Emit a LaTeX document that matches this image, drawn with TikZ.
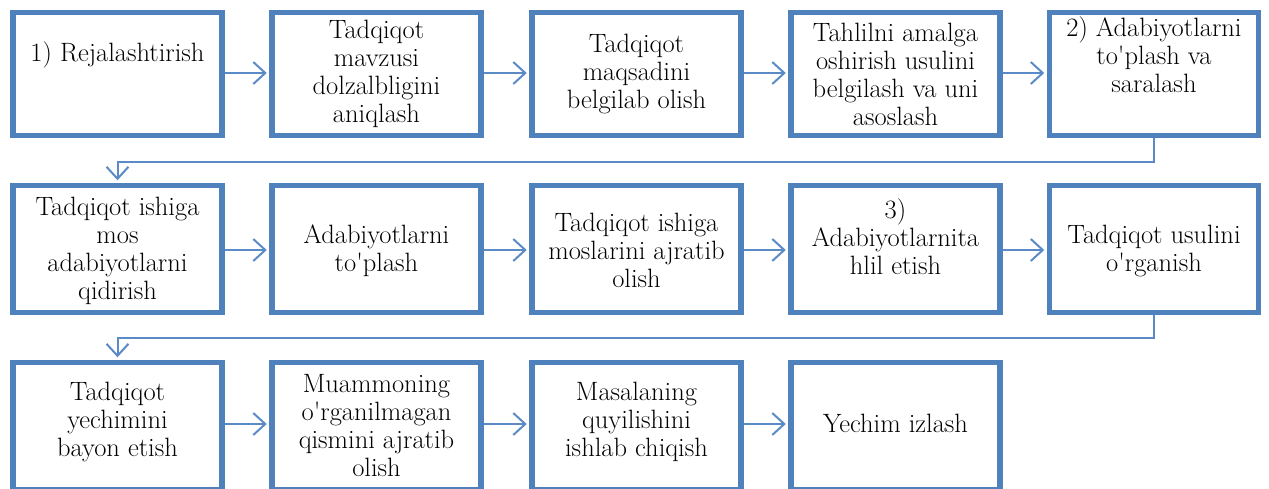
\documentclass[tikz,border=0pt]{standalone}
\usetikzlibrary{arrows.meta}
\definecolor{boxblue}{HTML}{4F81BD}
\definecolor{lineblue}{HTML}{5B8BC6}
\newcommand{\apos}{\textquotesingle}
\tikzset{
  box/.style={draw=boxblue, line width=5.5pt, fill=white, minimum width=209pt, inner sep=0pt},
  r1/.style={box, minimum height=123pt},
  r2/.style={box, minimum height=127pt},
  txt/.style={align=center, inner sep=0pt, font=\rmfamily\fontsize{26.5}{28}\selectfont},
  conn/.style={draw=lineblue, line width=2pt, -{Straight Barb[length=12pt,width=22pt,line width=2pt]}, shorten >=2.5pt}
}
\begin{document}
\begin{tikzpicture}[x=1pt,y=-1pt]
\useasboundingbox (0,0) rectangle (1269,488);
\clip (0,0) rectangle (1269,488);
% row 1
\node[r1] (b1) at (117.5,74) {};
\node[r1] (b2) at (376.5,74) {};
\node[r1] (b3) at (636.5,74) {};
\node[r1] (b4) at (895.5,74) {};
\node[r1] (b5) at (1154,74) {};
% row 2
\node[r2] (b6) at (117.5,249) {};
\node[r2] (b7) at (376.5,249) {};
\node[r2] (b8) at (636.5,249) {};
\node[r2] (b9) at (895.5,249) {};
\node[r2] (b10) at (1154,249) {};
% row 3
\node[r2] (b11) at (117.5,426) {};
\node[r2] (b12) at (376.5,426) {};
\node[r2] (b13) at (636.5,426) {};
\node[r2] (b14) at (895.5,426) {};
% texts
\node[txt] (t1) at (117.5,55) {1) Rejalashtirish};
\node[txt] (t2) at (376.5,74) {Tadqiqot\\mavzusi\\dolzalbligini\\aniqlash};
\node[txt] (t3) at (636.5,74) {Tadqiqot\\maqsadini\\belgilab olish};
\node[txt] (t4) at (895.5,74) {Tahlilni amalga\\oshirish usulini\\belgilash va uni\\asoslash};
\node[txt] (t5) at (1154,55) {2) Adabiyotlarni\\to\apos plash va\\saralash};
\node[txt] (t6) at (117.5,251) {Tadqiqot ishiga\\mos\\adabiyotlarni\\qidirish};
\node[txt] (t7) at (376.5,251) {Adabiyotlarni\\to\apos plash};
\node[txt] (t8) at (636.5,250) {Tadqiqot ishiga\\moslarini ajratib\\olish};
\node[txt] (t9) at (895.5,237) {3)\\Adabiyotlarnita\\hlil etish};
\node[txt] (t10) at (1154,251.5) {Tadqiqot usulini\\o\apos rganish};
\node[txt] (t11) at (117.5,422) {Tadqiqot\\yechimini\\bayon etish};
\node[txt] (t12) at (376.5,425.5) {Muammoning\\o\apos rganilmagan\\qismini ajratib\\olish};
\node[txt] (t13) at (636.5,422) {Masalaning\\quyilishini\\ishlab chiqish};
\node[txt] (t14) at (895.5,423) {Yechim izlash};
% connectors
\draw[conn] (b1.east |- 0,73) -- (b2.west |- 0,73);
\draw[conn] (b2.east |- 0,73) -- (b3.west |- 0,73);
\draw[conn] (b3.east |- 0,73) -- (b4.west |- 0,73);
\draw[conn] (b4.east |- 0,73) -- (b5.west |- 0,73);
\draw[conn] (b5.south) -- (b5.south |- 0,162) -| (b6.north);
\draw[conn] (b6.east |- 0,250) -- (b7.west |- 0,250);
\draw[conn] (b7.east |- 0,250) -- (b8.west |- 0,250);
\draw[conn] (b8.east |- 0,250) -- (b9.west |- 0,250);
\draw[conn] (b9.east |- 0,250) -- (b10.west |- 0,250);
\draw[conn] (b10.south) -- (b10.south |- 0,338) -| (b11.north);
\draw[conn] (b11.east |- 0,424) -- (b12.west |- 0,424);
\draw[conn] (b12.east |- 0,424) -- (b13.west |- 0,424);
\draw[conn] (b13.east |- 0,424) -- (b14.west |- 0,424);
\end{tikzpicture}
\end{document}
